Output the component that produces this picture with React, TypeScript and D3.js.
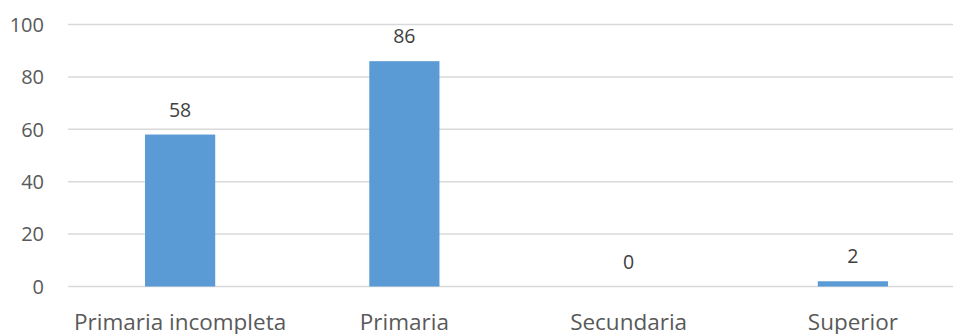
import React from "react";
import * as d3 from "d3";

const categories = ["Primaria incompleta", "Primaria", "Secundaria", "Superior"];
const values = [58, 86, 0, 2];
const yTicks = [0, 20, 40, 60, 80, 100];

const W = 953;
const H = 334;
const FONT = "'Open Sans', 'Liberation Sans', sans-serif";

export default function App() {
  const x = d3.scaleBand<string>().domain(categories).range([68, 965]).paddingInner(0.687).paddingOuter(0.3435);
  const y = d3.scaleLinear().domain([0, 100]).range([286.5, 24.5]);

  return (
    <svg
      width={W}
      height={H}
      style={{ position: "absolute", left: 0, top: 0, background: "#fff" }}
    >
      {/* gridlines */}
      {yTicks.map((t) => (
        <g key={t}>
          <line x1={68} x2={W} y1={y(t)} y2={y(t)} stroke="#d9d9d9" strokeWidth={1.5} />
          <text
            x={44}
            y={y(t)}
            dy="0.36em"
            textAnchor="end"
            fontFamily={FONT}
            fontSize={20}
            fill="#595959"
          >
            {t}
          </text>
        </g>
      ))}
      {/* bars */}
      {categories.map((c, i) => (
        <g key={c}>
          <rect
            x={x(c)}
            width={x.bandwidth()}
            y={y(values[i])}
            height={y(0) - y(values[i])}
            fill="#5b9bd5"
          />
          <text
            x={(x(c) ?? 0) + x.bandwidth() / 2}
            y={y(values[i]) - 18}
            textAnchor="middle"
            fontFamily={FONT}
            fontSize={19.5}
            fill="#404040"
          >
            {values[i]}
          </text>
          <text
            x={(x(c) ?? 0) + x.bandwidth() / 2}
            y={330}
            textAnchor="middle"
            fontFamily={FONT}
            fontSize={22.5}
            fill="#595959"
          >
            {c}
          </text>
        </g>
      ))}
    </svg>
  );
}
